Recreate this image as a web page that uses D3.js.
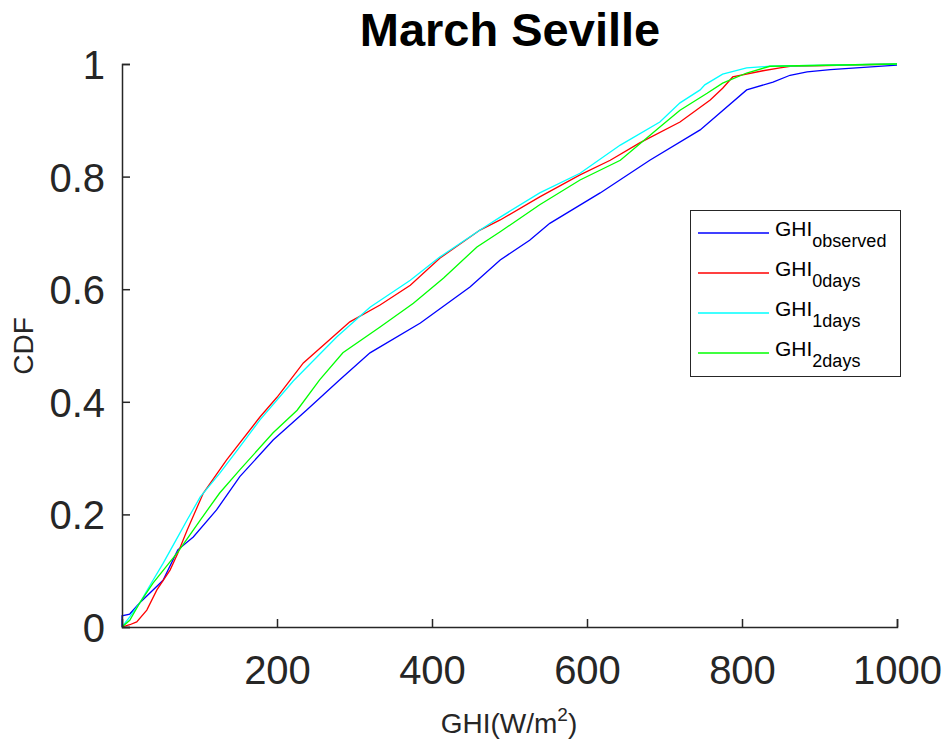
<!DOCTYPE html>
<html><head><meta charset="utf-8">
<script src="https://cdn.jsdelivr.net/npm/d3@7"></script>
<style>body{margin:0;background:#fff;} svg{display:block;font-family:"Liberation Sans",Arial,Helvetica,sans-serif;}</style>
</head><body>
<svg id="chart" width="947" height="744"></svg>
<script>
const titleText = "March Seville";
const xTicks = [200, 400, 600, 800, 1000];
const yTicks = [0, 0.2, 0.4, 0.6, 0.8, 1];
const yTickLabels = ["0", "0.2", "0.4", "0.6", "0.8", "1"];
const seriesNames = ["observed", "0days", "1days", "2days"];
const seriesColors = ["#0000ff", "#ff0000", "#00ffff", "#00ff00"];

const observed = [[0,0],[0,0.02],[10,0.023],[23,0.043],[53,0.083],[72,0.137],[92,0.16],[122,0.208],[152,0.267],[195,0.332],[238,0.385],[281,0.439],[320,0.487],[385,0.54],[449,0.604],[488,0.652],[526,0.687],[552,0.717],[617,0.771],[681,0.829],[746,0.883],[806,0.954],[840,0.968],[862,0.98],[884,0.986],[914,0.99],[1000,0.998]];
const days0 = [[0,0],[10,0.004],[19,0.009],[32,0.03],[45,0.066],[62,0.101],[72,0.131],[84,0.172],[105,0.238],[135,0.297],[178,0.373],[200,0.408],[234,0.469],[294,0.542],[333,0.572],[372,0.607],[410,0.655],[462,0.705],[488,0.723],[539,0.764],[591,0.803],[630,0.829],[668,0.86],[720,0.897],[759,0.936],[775,0.957],[788,0.977],[827,0.988],[849,0.993],[862,0.996],[1000,1]];
const days1 = [[0,0],[10,0.018],[23,0.043],[40,0.083],[53,0.113],[72,0.16],[84,0.19],[101,0.231],[126,0.273],[152,0.32],[178,0.368],[221,0.437],[277,0.515],[320,0.568],[372,0.616],[410,0.657],[462,0.705],[488,0.728],[539,0.771],[591,0.806],[643,0.856],[694,0.897],[720,0.931],[746,0.954],[752,0.963],[775,0.982],[806,0.993],[836,0.996],[1000,1]];
const days2 = [[0,0],[10,0.012],[23,0.043],[40,0.078],[72,0.133],[101,0.19],[126,0.238],[152,0.279],[195,0.345],[226,0.385],[255,0.439],[285,0.487],[333,0.533],[376,0.575],[415,0.62],[458,0.675],[488,0.702],[539,0.75],[591,0.794],[643,0.829],[694,0.888],[720,0.918],[755,0.948],[775,0.966],[806,0.984],[836,0.996],[1000,1]];
const allSeries = [observed, days0, days1, days2];

const svg = d3.select("#chart");
const x = d3.scaleLinear().domain([0, 1000]).range([122, 897]);
const y = d3.scaleLinear().domain([0, 1]).range([627, 64]);
const axisColor = "#262626";

// lines
const line = d3.line().x(d => x(d[0])).y(d => y(d[1]));
allSeries.forEach((s, i) => {
  svg.append("path").datum(s).attr("d", line)
    .attr("fill", "none").attr("stroke", seriesColors[i]).attr("stroke-width", 1.3);
});

// axes
const xAxis = d3.axisBottom(x).tickValues(xTicks).tickSize(-8).tickPadding(20).tickFormat(d3.format("d"));
const gx = svg.append("g").attr("transform", "translate(0,627)").call(xAxis);
const yAxis = d3.axisLeft(y).tickValues(yTicks).tickSize(-8).tickPadding(17).tickFormat((d, i) => yTickLabels[i]);
const gy = svg.append("g").attr("transform", "translate(122,0)").call(yAxis);
[gx, gy].forEach(g => {
  g.select(".domain").attr("stroke", axisColor).attr("stroke-width", 1.5);
  g.selectAll(".tick line").attr("stroke", axisColor).attr("stroke-width", 1.5);
  g.selectAll(".tick text").attr("fill", axisColor).attr("font-size", 40)
    .attr("font-family", '"Liberation Sans",Arial,sans-serif');
});
gx.selectAll(".tick text").attr("dy", null).attr("y", 57).attr("dominant-baseline", "auto");
gy.selectAll(".tick text").attr("dy", "0.36em");

// title
svg.append("text").attr("x", 510).attr("y", 46).attr("text-anchor", "middle")
  .attr("font-size", 47).attr("font-weight", "bold").attr("fill", "#000").text(titleText);

// x label
const xl = svg.append("text").attr("x", 509).attr("y", 733).attr("text-anchor", "middle")
  .attr("font-size", 28).attr("fill", axisColor);
xl.append("tspan").text("GHI(W/m");
xl.append("tspan").attr("font-size", 19).attr("dy", -12).text("2");
xl.append("tspan").attr("dy", 12).text(")");

// y label
svg.append("text").attr("transform", "translate(33,346) rotate(-90)").attr("text-anchor", "middle")
  .attr("font-size", 28).attr("fill", axisColor).text("CDF");

// legend
const lg = svg.append("g");
lg.append("rect").attr("x", 690.5).attr("y", 210.5).attr("width", 210).attr("height", 166)
  .attr("fill", "#fff").attr("stroke", axisColor).attr("stroke-width", 1);
seriesNames.forEach((n, i) => {
  const yy = 233 + i * 40;
  lg.append("line").attr("x1", 698).attr("x2", 769).attr("y1", yy).attr("y2", yy)
    .attr("stroke", seriesColors[i]).attr("stroke-width", 1.3);
  const t = lg.append("text").attr("x", 775).attr("y", yy + 3).attr("font-size", 21).attr("fill", "#000");
  t.append("tspan").text("GHI");
  t.append("tspan").attr("font-size", 18).attr("dy", 11).text(n);
});
</script>
</body></html>
